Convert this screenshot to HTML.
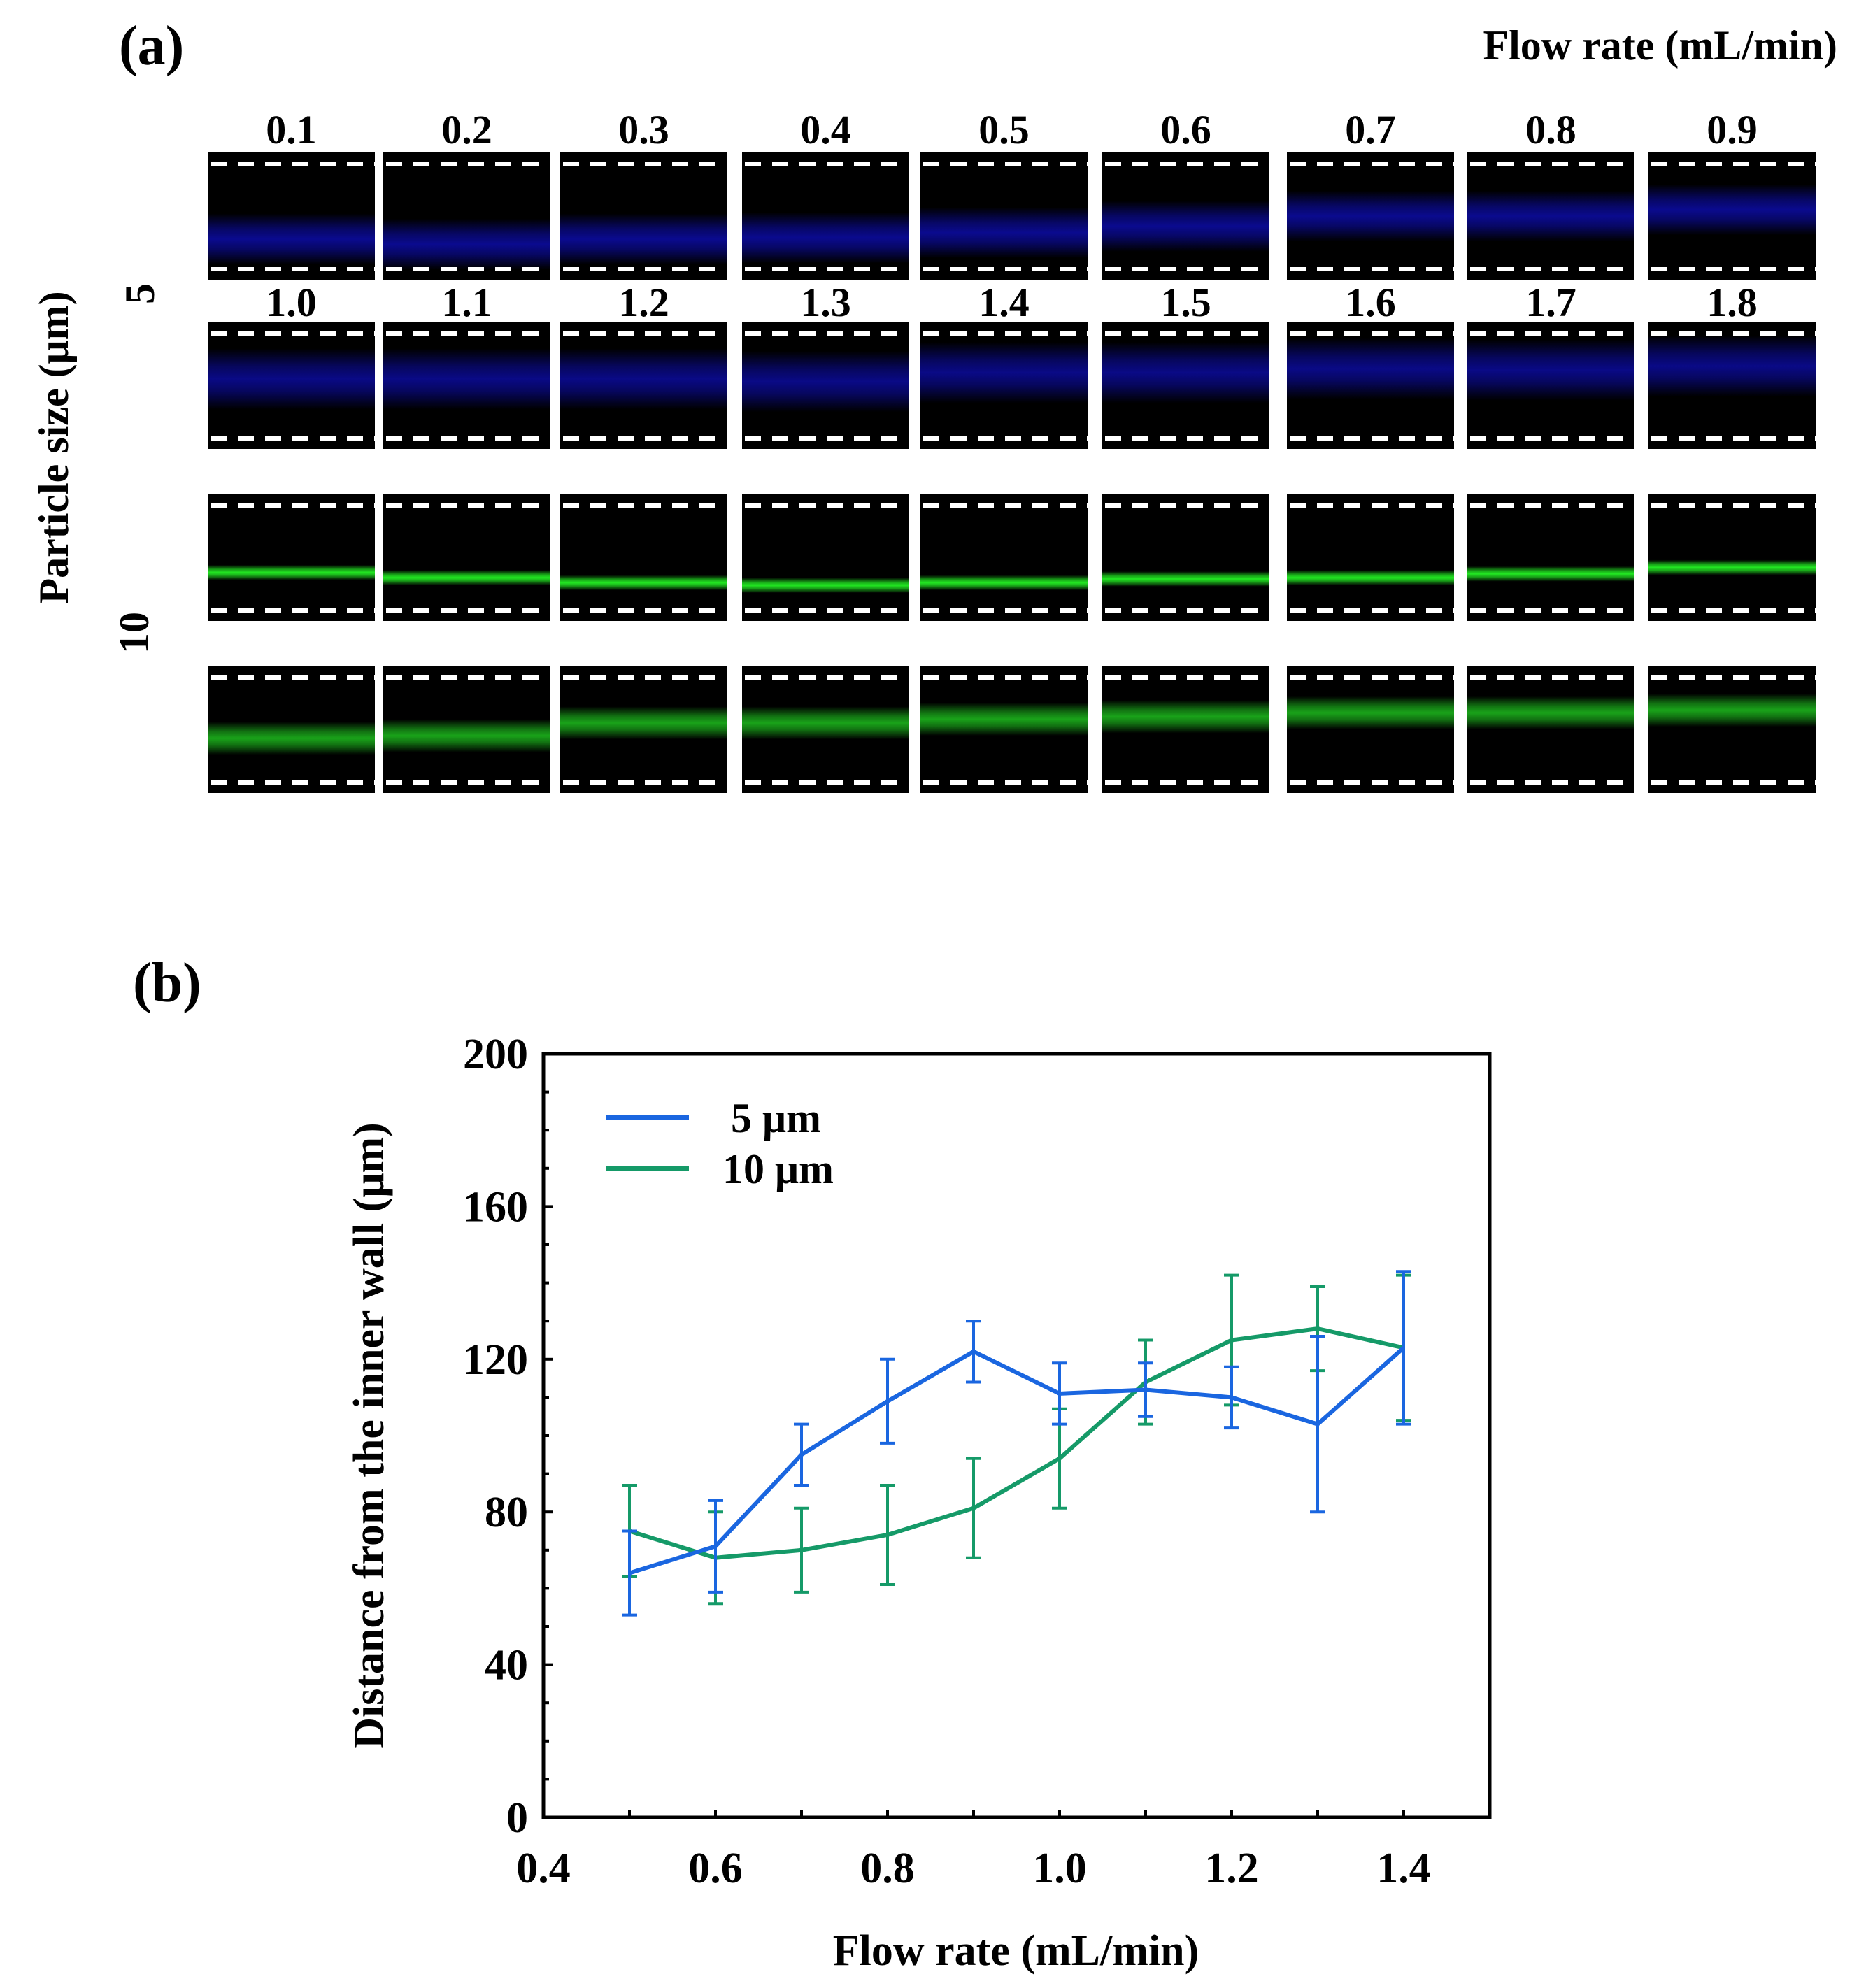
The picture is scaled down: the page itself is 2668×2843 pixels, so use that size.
<!DOCTYPE html>
<html><head><meta charset="utf-8"><style>
html,body{margin:0;padding:0;background:#fff}
svg{display:block}
text{font-family:"Liberation Serif",serif;font-weight:bold;fill:#000}
</style></head><body>
<svg id="fig" width="2668" height="2843" viewBox="0 0 2668 2843" xmlns="http://www.w3.org/2000/svg">
<defs id="defs"></defs>
<text x="170" y="92" font-size="80">(a)</text>
<text x="2627" y="85" font-size="60" text-anchor="end">Flow rate (mL/min)</text>
<text transform="translate(97,640) rotate(-90)" font-size="60" text-anchor="middle">Particle size (μm)</text>
<text transform="translate(220,420) rotate(-90)" font-size="60" text-anchor="middle">5</text>
<text transform="translate(212,905) rotate(-90)" font-size="60" text-anchor="middle">10</text>
<g id="panels"></g>
<text x="190" y="1432" font-size="80">(b)</text>
<g id="chart"></g>
</svg>
<script>
// ---- panel (a) data ----
const labelsRow1 = ["0.1","0.2","0.3","0.4","0.5","0.6","0.7","0.8","0.9"];
const labelsRow2 = ["1.0","1.1","1.2","1.3","1.4","1.5","1.6","1.7","1.8"];
const bandBlue1 = [0.68,0.72,0.68,0.67,0.63,0.58,0.5,0.5,0.45];
const bandBlue2 = [0.45,0.45,0.45,0.47,0.4,0.4,0.37,0.38,0.35];
const bandGreen1 = [0.62,0.66,0.7,0.72,0.7,0.67,0.66,0.63,0.58];
const bandGreen2 = [0.57,0.55,0.45,0.45,0.42,0.4,0.37,0.37,0.35];

// ---- panel (b) data ----
const flowRates = [0.5,0.6,0.7,0.8,0.9,1.0,1.1,1.2,1.3,1.4];
const dist5 = [64,71,95,109,122,111,112,110,103,123];
const err5 = [11,12,8,11,8,8,7,8,23,20];
const dist10 = [75,68,70,74,81,94,114,125,128,123];
const err10 = [12,12,11,13,13,13,11,17,11,19];
const xTicks = ["0.4","0.6","0.8","1.0","1.2","1.4"];
const yTicks = ["0","40","80","120","160","200"];

const NS="http://www.w3.org/2000/svg";
function mk(tag,attrs,parent){const e=document.createElementNS(NS,tag);for(const k in attrs)e.setAttribute(k,attrs[k]);parent.appendChild(e);return e;}
const defs=document.getElementById('defs');
const panels=document.getElementById('panels');
const colX=[297,548,801,1061,1316,1576,1840,2098,2357];
const colW=239;
const rowY=[218,460,706,952];
const rowH=182;
const rows=[[bandBlue1,"#0c0ca8",0.2,0.85],[bandBlue2,"#0c0ca8",0.24,0.8],[bandGreen1,"#22e822",0.06,1],[bandGreen2,"#1ec01e",0.13,0.85]];
rows.forEach((r,ri)=>{
  r[0].forEach((c,ci)=>{
    const id='g'+ri+'_'+ci;
    const lg=mk('linearGradient',{id:id,x1:0,y1:0,x2:0,y2:1},defs);
    const w=r[2];
    const stops=[[0,0],[Math.max(0,c-w),0],[Math.max(0,c-w*0.4),r[3]*0.7],[c,r[3]],[Math.min(1,c+w*0.4),r[3]*0.7],[Math.min(1,c+w),0],[1,0]];
    stops.forEach(s=>mk('stop',{offset:s[0],'stop-color':r[1],'stop-opacity':s[1]},lg));
    const x=colX[ci], y=rowY[ri];
    const g=mk('g',{},panels);
    
    
    mk('rect',{x:x,y:y,width:colW,height:rowH,fill:'#000'},g);
    mk('rect',{x:x,y:y,width:colW,height:rowH,fill:'url(#'+id+')'},g);
    mk('line',{x1:x+4,x2:x+colW,y1:y+17,y2:y+17,stroke:'#fff','stroke-width':6,'stroke-dasharray':'23 16'},g);
    mk('line',{x1:x+4,x2:x+colW,y1:y+rowH-15,y2:y+rowH-15,stroke:'#fff','stroke-width':6,'stroke-dasharray':'23 16'},g);
  });
});
[[labelsRow1,205],[labelsRow2,452]].forEach((L,li)=>{
  L[0].forEach((t,i)=>{
    const e=mk('text',{x:colX[i]+colW/2,y:L[1],'font-size':58,'text-anchor':'middle'},panels);
    e.textContent=t;
    
    
  });
});

// ---- chart ----
const chart=document.getElementById('chart');
const L=777,R=2130,T=1507,B=2599;
const xs=v=>L+(v-0.4)/1.1*(R-L);
const ys=v=>B-(v/200)*(B-T);
const frame=mk('rect',{x:L,y:T,width:R-L,height:B-T,fill:'none',stroke:'#000','stroke-width':5},chart);


for(let v=0;v<=200;v+=10){const len=v%40===0?14:8;mk('line',{x1:L,x2:L+len,y1:ys(v),y2:ys(v),stroke:'#000','stroke-width':4},chart);}
for(let v=0.5;v<1.45;v+=0.1){mk('line',{x1:xs(v),x2:xs(v),y1:B,y2:B-10,stroke:'#000','stroke-width':4},chart);}
yTicks.forEach(t=>{const e=mk('text',{x:L-22,y:ys(+t)+21,'font-size':62,'text-anchor':'end'},chart);e.textContent=t;
  
  });
xTicks.forEach(t=>{const e=mk('text',{x:xs(+t),y:B+93,'font-size':62,'text-anchor':'middle'},chart);e.textContent=t;
  
  });
const xt=mk('text',{x:(L+R)/2-1,y:2810,'font-size':62,'text-anchor':'middle'},chart);xt.textContent='Flow rate (mL/min)';


const yt=mk('text',{transform:'translate(548,2053) rotate(-90)','font-size':62,'text-anchor':'middle'},chart);yt.textContent='Distance from the inner wall (μm)';


function series(vals,errs,color,name){
  const g=mk('g',{},chart);
  
  
  vals.forEach((v,i)=>{const x=xs(flowRates[i]);
    mk('line',{x1:x,x2:x,y1:ys(v-errs[i]),y2:ys(v+errs[i]),stroke:color,'stroke-width':4},g);
    mk('line',{x1:x-11,x2:x+11,y1:ys(v-errs[i]),y2:ys(v-errs[i]),stroke:color,'stroke-width':4},g);
    mk('line',{x1:x-11,x2:x+11,y1:ys(v+errs[i]),y2:ys(v+errs[i]),stroke:color,'stroke-width':4},g);});
  mk('polyline',{points:vals.map((v,i)=>xs(flowRates[i])+','+ys(v)).join(' '),fill:'none',stroke:color,'stroke-width':6,'stroke-linejoin':'round'},g);
}
series(dist10,err10,'#159a68','series-10um');
series(dist5,err5,'#1a66e0','series-5um');
[['5  μm','#1a66e0',1598,'legend-5um'],['10 μm','#159a68',1671,'legend-10um']].forEach(l=>{
  const g=mk('g',{},chart);
  
  
  mk('line',{x1:866,x2:985,y1:l[2],y2:l[2],stroke:l[1],'stroke-width':6},g);
  const e=mk('text',{x:1033,y:l[2]+21,'font-size':60,'xml:space':'preserve'},g);e.textContent=l[0];
  if(l[0].startsWith('5')) e.setAttribute('x',1045);
});
</script>
</body></html>
